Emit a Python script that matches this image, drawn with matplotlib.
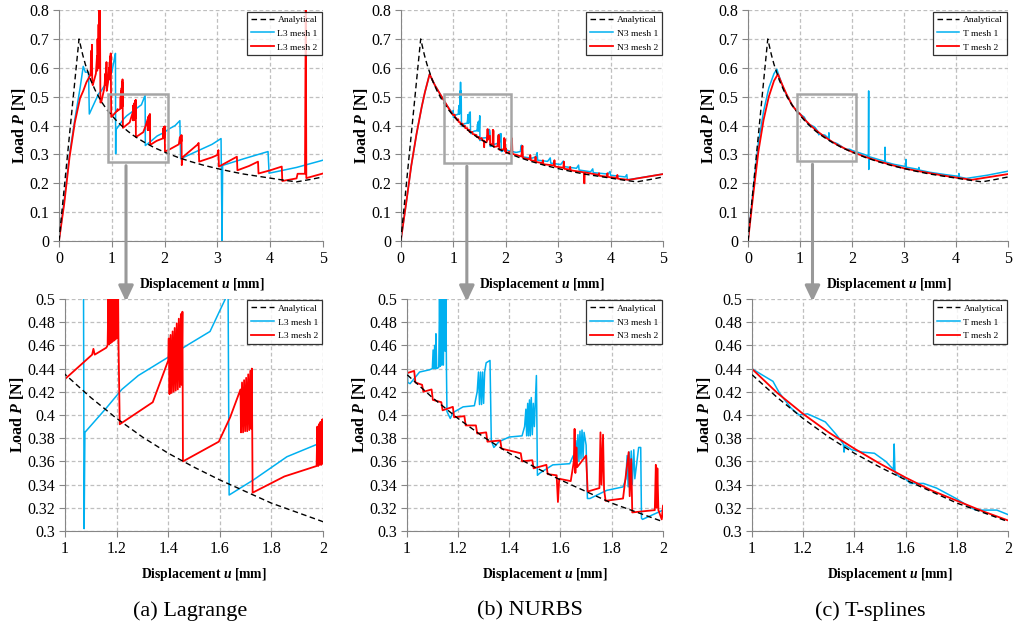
import numpy as np
import matplotlib
matplotlib.use('Agg')
import matplotlib.pyplot as plt
from matplotlib.patches import Rectangle
from matplotlib.ticker import FuncFormatter

plt.rcParams['font.family'] = ['Liberation Serif', 'DejaVu Serif']
plt.rcParams['mathtext.fontset'] = 'custom'
plt.rcParams['mathtext.it'] = 'Liberation Serif:italic:bold'
plt.rcParams['mathtext.rm'] = 'Liberation Serif:bold'

BLUE = '#00B0F0'
RED = '#FF0000'
GRID = '#BFBFBF'
AXIS = '#868686'
BOX = '#A6A6A6'

# analytical load-displacement curve (same for all three panels)
analytical = np.array([
    (0, 0), (0.38, 0.70), (0.45, 0.645), (0.5, 0.612), (0.6, 0.558), (0.7, 0.517),
    (0.8, 0.484), (0.9, 0.457), (1.0, 0.435), (1.1, 0.415), (1.2, 0.397), (1.3, 0.381),
    (1.4, 0.367), (1.5, 0.355), (1.6, 0.344), (1.7, 0.334), (1.8, 0.324), (1.9, 0.316),
    (2.0, 0.308), (2.25, 0.290), (2.5, 0.275), (2.75, 0.262), (3.0, 0.251), (3.25, 0.241),
    (3.5, 0.232), (3.75, 0.225), (4.0, 0.218), (4.25, 0.211), (4.5, 0.205), (4.75, 0.213),
    (5.0, 0.222)])

# (a) Lagrange
lag_mesh1 = np.array([
    (0, 0), (0.1, 0.14), (0.2, 0.30), (0.3, 0.42), (0.4, 0.53), (0.46, 0.605), (0.5, 0.585),
    (0.56, 0.585), (0.575, 0.44), (0.65, 0.47), (0.75, 0.51), (0.8, 0.52), (0.85, 0.535),
    (0.95, 0.56), (1.0, 0.585), (1.06, 0.64), (1.07, 0.65), (1.074, 0.302), (1.077, 0.385),
    (1.16, 0.406), (1.22, 0.422), (1.284, 0.434), (1.394, 0.449), (1.48, 0.461), (1.562, 0.472),
    (1.60, 0.49), (1.632, 0.505), (1.636, 0.331), (1.73, 0.344), (1.86, 0.364), (1.98, 0.375),
    (2.1, 0.39), (2.2, 0.40), (2.29, 0.417), (2.305, 0.285), (2.6, 0.31), (2.9, 0.335),
    (3.07, 0.355), (3.09, 0.0), (3.1, 0.262), (3.5, 0.285), (3.96, 0.31), (3.98, 0.235),
    (4.5, 0.255), (5.0, 0.28)])

lag_mesh2 = np.array([
    (0, 0), (0.1, 0.13), (0.2, 0.29), (0.3, 0.41), (0.4, 0.495), (0.46, 0.52), (0.52, 0.55),
    (0.58, 0.57), (0.6, 0.58), (0.605, 0.63), (0.61, 0.575), (0.615, 0.66), (0.62, 0.58),
    (0.625, 0.68), (0.63, 0.55), (0.64, 0.54), (0.7, 0.58), (0.72, 0.64), (0.725, 0.59),
    (0.73, 0.70), (0.74, 0.60), (0.75, 0.75), (0.755, 0.60), (0.76, 0.82), (0.77, 0.62),
    (0.775, 0.85), (0.785, 0.48), (0.8, 0.48), (0.86, 0.53), (0.88, 0.58), (0.885, 0.54),
    (0.89, 0.60), (0.895, 0.55), (0.9, 0.62), (0.905, 0.52), (0.93, 0.55), (0.95, 0.60),
    (0.955, 0.56), (0.96, 0.62), (0.965, 0.57), (0.97, 0.64), (0.975, 0.58), (0.98, 0.65),
    (0.99, 0.43), (1.0, 0.431), (1.08, 0.447), (1.105, 0.452), (1.11, 0.457), (1.115, 0.452),
    (1.16, 0.458),
    (1.165, 0.46), (1.168, 0.50), (1.171, 0.461), (1.174, 0.51), (1.177, 0.462), (1.18, 0.52),
    (1.183, 0.463), (1.186, 0.53), (1.189, 0.464), (1.192, 0.54), (1.195, 0.465), (1.198, 0.55),
    (1.201, 0.466), (1.204, 0.56), (1.207, 0.466), (1.212, 0.392),
    (1.34, 0.411), (1.40, 0.447),
    (1.402, 0.466), (1.405, 0.418), (1.409, 0.469), (1.413, 0.419), (1.417, 0.472), (1.421, 0.42),
    (1.425, 0.475), (1.429, 0.421), (1.433, 0.479), (1.437, 0.422), (1.441, 0.483), (1.445, 0.424),
    (1.449, 0.487), (1.452, 0.426), (1.455, 0.489), (1.457, 0.36),
    (1.596, 0.377), (1.64, 0.398), (1.68, 0.422),
    (1.682, 0.385), (1.686, 0.428), (1.69, 0.385), (1.694, 0.43), (1.698, 0.386), (1.702, 0.432),
    (1.706, 0.386), (1.71, 0.435), (1.714, 0.387), (1.718, 0.438), (1.722, 0.388), (1.724, 0.44),
    (1.727, 0.333),
    (1.85, 0.347), (1.975, 0.356),
    (1.978, 0.39), (1.981, 0.356), (1.984, 0.392), (1.987, 0.357), (1.99, 0.394), (1.993, 0.357),
    (1.996, 0.396), (1.999, 0.358), (2.002, 0.397), (2.008, 0.31),
    (2.1, 0.318), (2.2, 0.328), (2.27, 0.335), (2.29, 0.36), (2.3, 0.34), (2.31, 0.365),
    (2.318, 0.345), (2.322, 0.367), (2.326, 0.263), (2.34, 0.29), (2.5, 0.315), (2.63, 0.335),
    (2.645, 0.34), (2.655, 0.275), (2.9, 0.29), (3.0, 0.298), (3.02, 0.315), (3.03, 0.258),
    (3.2, 0.275), (3.37, 0.292), (3.38, 0.245), (3.6, 0.26), (3.77, 0.275), (3.78, 0.234),
    (4.0, 0.245), (4.22, 0.258), (4.23, 0.208), (4.5, 0.217), (4.52, 0.233), (4.66, 0.233),
    (4.675, 0.85), (4.685, 0.218), (5.0, 0.234)])

# (b) NURBS
nurbs_mesh1 = np.array([
    (0, 0), (0.11, 0.14), (0.2, 0.26), (0.3, 0.37), (0.4, 0.465), (0.46, 0.515), (0.55, 0.578),
    (0.65, 0.54), (0.78, 0.50), (0.88, 0.47), (0.94, 0.455), (0.995, 0.44), (1.0, 0.452),
    (1.004, 0.428), (1.013, 0.427), (1.05, 0.437), (1.09, 0.439), (1.1, 0.44), (1.103, 0.456),
    (1.106, 0.44), (1.109, 0.46), (1.112, 0.44), (1.114, 0.47), (1.117, 0.44), (1.125, 0.441),
    (1.128, 0.50), (1.131, 0.442), (1.134, 0.52), (1.137, 0.443), (1.14, 0.55), (1.143, 0.443),
    (1.147, 0.52), (1.15, 0.455), (1.153, 0.50), (1.155, 0.44), (1.157, 0.403), (1.17, 0.397),
    (1.18, 0.402), (1.22, 0.407), (1.264, 0.408), (1.275, 0.42), (1.28, 0.437), (1.284, 0.409),
    (1.288, 0.437), (1.292, 0.409), (1.296, 0.437), (1.3, 0.41), (1.304, 0.437), (1.31, 0.445),
    (1.325, 0.447), (1.33, 0.378), (1.34, 0.372), (1.36, 0.377), (1.40, 0.381), (1.45, 0.382),
    (1.46, 0.39), (1.465, 0.405), (1.468, 0.382), (1.472, 0.41), (1.475, 0.382), (1.479, 0.413),
    (1.482, 0.382), (1.486, 0.415), (1.49, 0.383), (1.494, 0.41), (1.498, 0.39), (1.506, 0.434),
    (1.51, 0.348), (1.52, 0.35), (1.57, 0.357), (1.636, 0.358), (1.65, 0.365), (1.655, 0.36),
    (1.66, 0.378), (1.664, 0.36), (1.668, 0.383), (1.672, 0.36), (1.676, 0.386), (1.68, 0.362),
    (1.684, 0.387), (1.688, 0.363), (1.692, 0.385), (1.70, 0.374), (1.705, 0.328), (1.715, 0.328),
    (1.78, 0.335), (1.844, 0.338), (1.855, 0.345), (1.86, 0.365), (1.864, 0.338), (1.868, 0.368),
    (1.872, 0.338), (1.876, 0.369), (1.88, 0.34), (1.886, 0.37), (1.89, 0.345), (1.905, 0.372),
    (1.913, 0.372), (1.916, 0.311), (1.92, 0.31), (2.0, 0.318), (2.05, 0.313), (2.2, 0.307),
    (2.28, 0.31), (2.3, 0.332), (2.31, 0.292), (2.5, 0.287), (2.58, 0.292), (2.6, 0.306),
    (2.61, 0.28), (2.8, 0.276), (2.85, 0.288), (2.86, 0.27), (3.05, 0.265), (3.1, 0.277),
    (3.11, 0.258), (3.35, 0.252), (3.39, 0.263), (3.4, 0.246), (3.62, 0.24), (3.66, 0.25),
    (3.67, 0.237), (3.95, 0.232), (3.99, 0.241), (4.0, 0.228), (4.28, 0.222), (4.31, 0.23),
    (4.32, 0.212), (5.0, 0.232)])

nurbs_mesh2 = np.array([
    (0, 0), (0.11, 0.14), (0.2, 0.26), (0.3, 0.37), (0.4, 0.465), (0.46, 0.515), (0.55, 0.578),
    (0.65, 0.54), (0.78, 0.50), (0.88, 0.47), (0.94, 0.452), (1.0, 0.436), (1.029, 0.438),
    (1.034, 0.428), (1.06, 0.426), (1.065, 0.42), (1.097, 0.422), (1.102, 0.413), (1.135, 0.411),
    (1.14, 0.404), (1.18, 0.407), (1.185, 0.398), (1.225, 0.399), (1.23, 0.391), (1.27, 0.391),
    (1.275, 0.384), (1.31, 0.385), (1.315, 0.377), (1.365, 0.378), (1.37, 0.371), (1.445, 0.367),
    (1.45, 0.36), (1.49, 0.361), (1.495, 0.354), (1.545, 0.357), (1.55, 0.349), (1.585, 0.348),
    (1.59, 0.325), (1.595, 0.345), (1.64, 0.343), (1.652, 0.36), (1.655, 0.388), (1.658, 0.35),
    (1.662, 0.372), (1.665, 0.355), (1.70, 0.365), (1.706, 0.334), (1.752, 0.337), (1.756, 0.385),
    (1.76, 0.34), (1.766, 0.383), (1.77, 0.336), (1.776, 0.326), (1.844, 0.328), (1.866, 0.368),
    (1.87, 0.33), (1.876, 0.362), (1.88, 0.316), (1.968, 0.318), (1.972, 0.357), (1.975, 0.32),
    (1.978, 0.354), (1.982, 0.318), (1.995, 0.31), (2.0, 0.322), (2.005, 0.305), (2.1, 0.31),
    (2.12, 0.356), (2.13, 0.302), (2.3, 0.293), (2.32, 0.33), (2.33, 0.288), (2.45, 0.283),
    (2.47, 0.298), (2.48, 0.28), (2.56, 0.277), (2.57, 0.292), (2.58, 0.274), (2.7, 0.27),
    (2.71, 0.28), (2.72, 0.266), (2.92, 0.262), (2.93, 0.28), (2.94, 0.258), (3.1, 0.254),
    (3.11, 0.275), (3.12, 0.25), (3.22, 0.248), (3.23, 0.257), (3.24, 0.245), (3.49, 0.238),
    (3.5, 0.2), (3.51, 0.238), (3.77, 0.229), (3.78, 0.235), (3.79, 0.226), (3.93, 0.223),
    (3.94, 0.235), (3.95, 0.222), (4.12, 0.219), (4.13, 0.229), (4.14, 0.216), (4.35, 0.212),
    (5.0, 0.232)])

# (c) T-splines
ts_mesh1 = np.array([
    (0, 0), (0.1, 0.18), (0.2, 0.34), (0.3, 0.45), (0.4, 0.53), (0.5, 0.58), (0.555, 0.595),
    (0.6, 0.57), (0.65, 0.545), (0.7, 0.52), (0.75, 0.505), (0.85, 0.47), (0.93, 0.452),
    (1.0, 0.44), (1.045, 0.434), (1.083, 0.429), (1.108, 0.419), (1.153, 0.406), (1.185, 0.40),
    (1.217, 0.401), (1.248, 0.398), (1.287, 0.394), (1.33, 0.383), (1.357, 0.375), (1.36, 0.368),
    (1.363, 0.374), (1.39, 0.37), (1.43, 0.368), (1.478, 0.367), (1.522, 0.36), (1.552, 0.353),
    (1.555, 0.375), (1.558, 0.351), (1.573, 0.347), (1.59, 0.347), (1.618, 0.341), (1.669, 0.341),
    (1.72, 0.337), (1.796, 0.328), (1.847, 0.321), (1.873, 0.318), (1.955, 0.318), (2.0, 0.314),
    (2.1, 0.308), (2.3, 0.296), (2.315, 0.29), (2.32, 0.52), (2.322, 0.248), (2.33, 0.292),
    (2.5, 0.283), (2.63, 0.276), (2.635, 0.325), (2.64, 0.274), (2.8, 0.266), (3.03, 0.258),
    (3.035, 0.283), (3.04, 0.256), (3.28, 0.248), (3.285, 0.255), (3.29, 0.246), (3.5, 0.238),
    (3.8, 0.23), (4.05, 0.224), (4.055, 0.234), (4.06, 0.222), (4.2, 0.217), (4.6, 0.228),
    (5.0, 0.242)])

ts_mesh2 = np.array([
    (0, 0), (0.1, 0.16), (0.2, 0.31), (0.3, 0.42), (0.4, 0.50), (0.5, 0.555), (0.575, 0.578),
    (0.65, 0.545), (0.75, 0.505), (0.85, 0.47), (0.93, 0.452), (1.0, 0.440), (1.1, 0.419),
    (1.2, 0.401), (1.3, 0.385), (1.4, 0.371), (1.5, 0.358), (1.6, 0.346), (1.7, 0.335),
    (1.8, 0.326), (1.9, 0.317), (2.0, 0.309), (2.25, 0.292), (2.5, 0.277), (2.75, 0.264),
    (3.0, 0.252), (3.25, 0.243), (3.5, 0.235), (3.75, 0.227), (4.0, 0.22), (4.3, 0.212),
    (4.65, 0.222), (5.0, 0.232)])

panel_labels = [('L3 mesh 1', 'L3 mesh 2'), ('N3 mesh 1', 'N3 mesh 2'), ('T mesh 1', 'T mesh 2')]
captions = ['(a) Lagrange', '(b) NURBS', '(c) T-splines']

# zoom window drawn on the top plots (x0, y0, x1, y1) and where the arrow sits
zoom_boxes = [(0.93, 0.273, 2.07, 0.511), (0.825, 0.271, 2.10, 0.509), (0.94, 0.278, 2.08, 0.509)]
arrow_x = [1.27, 1.26, 1.24]

top_xticks = [0, 1, 2, 3, 4, 5]
top_yticks = [0, 0.1, 0.2, 0.3, 0.4, 0.5, 0.6, 0.7, 0.8]
bot_xticks = [1, 1.2, 1.4, 1.6, 1.8, 2]
bot_yticks = [0.3, 0.32, 0.34, 0.36, 0.38, 0.4, 0.42, 0.44, 0.46, 0.48, 0.5]


def style_axes(ax, xticks, yticks):
    ax.set_xlim(xticks[0], xticks[-1])
    ax.set_ylim(yticks[0], yticks[-1])
    ax.set_xticks(xticks)
    ax.set_yticks(yticks)
    fmt = FuncFormatter(lambda v, p: '%g' % round(v, 3))
    ax.xaxis.set_major_formatter(fmt)
    ax.yaxis.set_major_formatter(fmt)
    ax.grid(True, color=GRID, linestyle=(0, (3, 2)), linewidth=0.9)
    ax.set_axisbelow(True)
    for side in ['top', 'right']:
        ax.spines[side].set_visible(False)
    for side in ['left', 'bottom']:
        ax.spines[side].set_color(AXIS)
    ax.tick_params(direction='out', length=4, color=AXIS, labelsize=11.5, pad=3)
    ax.set_xlabel('Displacement $u$ [mm]', fontsize=9.8, fontweight='bold')
    ax.set_ylabel('Load $P$ [N]', fontsize=11.5, fontweight='bold', labelpad=1)
    # excel places the axis title a bit right of centre
    ax.xaxis.set_label_coords(0.54, -0.15)


def draw_series(ax, m1, m2, labels):
    h1, = ax.plot(m1[:, 0], m1[:, 1], color=BLUE, lw=1.1, label=labels[0])
    h2, = ax.plot(m2[:, 0], m2[:, 1], color=RED, lw=1.3, label=labels[1])
    h0, = ax.plot(analytical[:, 0], analytical[:, 1], color='black', lw=1.0,
                  linestyle=(0, (4, 2.5)), label='Analytical', zorder=3)
    leg = ax.legend(handles=[h0, h1, h2], loc='upper right', bbox_to_anchor=(1.0, 1.0),
                    fontsize=6.8, frameon=True, fancybox=False, handlelength=2.4,
                    borderaxespad=0.15, labelspacing=0.55, borderpad=0.4, handletextpad=0.4)
    leg.get_frame().set_edgecolor('black')
    leg.get_frame().set_linewidth(0.9)
    leg.set_zorder(6)


fig = plt.figure(figsize=(10.13, 6.31), dpi=100)

top_pos = [(0.0582, 0.618, 0.2606, 0.366), (0.3956, 0.618, 0.2589, 0.366), (0.7384, 0.618, 0.2567, 0.366)]
bot_pos = [(0.0642, 0.1585, 0.2547, 0.3677), (0.4015, 0.1585, 0.253, 0.3677), (0.742, 0.1585, 0.2535, 0.3677)]
series = [(lag_mesh1, lag_mesh2), (nurbs_mesh1, nurbs_mesh2), (ts_mesh1, ts_mesh2)]
caption_x = [0.1876, 0.523, 0.859]

for i in range(3):
    m1, m2 = series[i]

    ax_top = fig.add_axes(top_pos[i])
    draw_series(ax_top, m1, m2, panel_labels[i])
    style_axes(ax_top, top_xticks, top_yticks)

    # gray box showing the zoomed window
    x0, y0, x1, y1 = zoom_boxes[i]
    ax_top.add_patch(Rectangle((x0, y0), x1 - x0, y1 - y0, fill=False,
                               edgecolor=BOX, lw=1.8, zorder=5))
    ax_top.annotate('', xy=(arrow_x[i], 0.522), xycoords=('data', 'figure fraction'),
                    xytext=(arrow_x[i], y0 - 0.012), textcoords='data',
                    arrowprops=dict(arrowstyle='-|>,head_width=0.45,head_length=0.95',
                                    color='#999999', lw=2.2, shrinkA=0, shrinkB=0),
                    annotation_clip=False, zorder=7)

    ax_bot = fig.add_axes(bot_pos[i])
    draw_series(ax_bot, m1, m2, panel_labels[i])
    style_axes(ax_bot, bot_xticks, bot_yticks)

    fig.text(caption_x[i], 0.032, captions[i], ha='center', va='center', fontsize=16)

fig.savefig('out.png', dpi=100)
